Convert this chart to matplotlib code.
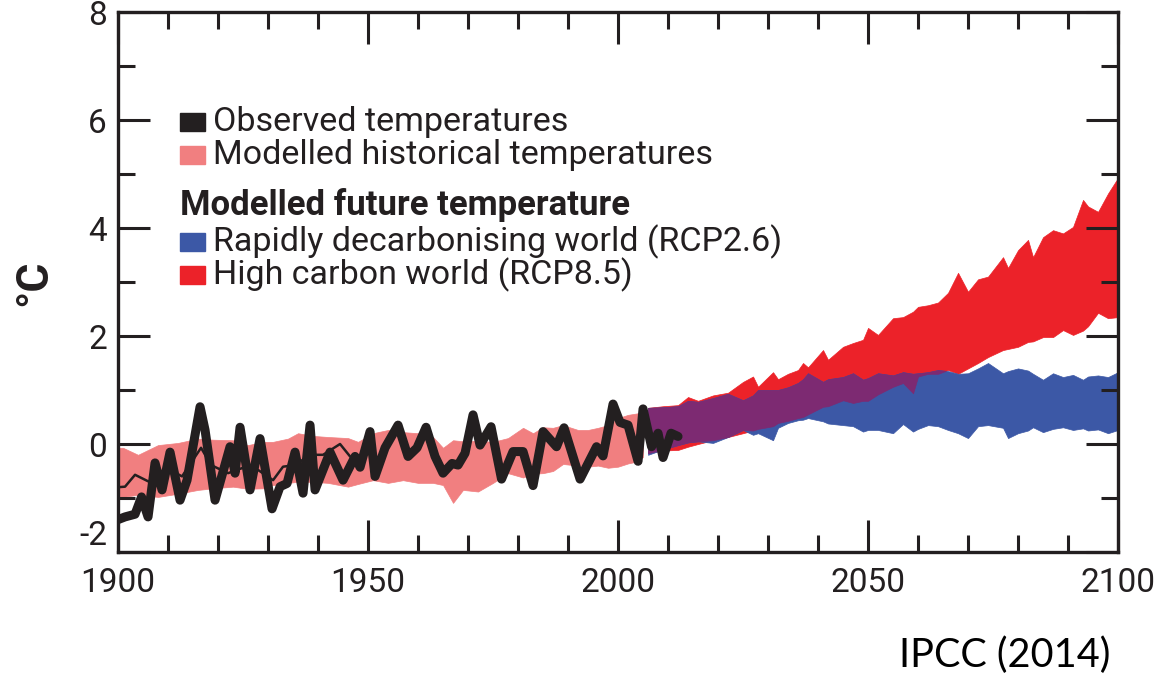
import numpy as np
import matplotlib.pyplot as plt
from matplotlib.patches import Rectangle

# modelled historical range (pink band)
hist_years = [1900, 1901, 1904, 1908, 1912, 1916, 1919, 1923, 1926, 1929, 1931, 1934, 1936,
              1939, 1942, 1946, 1948, 1951, 1954, 1957, 1960, 1963, 1965, 1967, 1969, 1972,
              1975, 1978, 1981, 1983, 1985, 1987, 1989, 1992, 1994, 1996, 1998, 2000, 2002,
              2004, 2005]
hist_hi = [-0.07, -0.07, -0.20, -0.02, 0.02, 0.10, 0.08, 0.07, -0.02, 0.04, 0.04, 0.10, 0.20,
           0.15, 0.13, 0.11, 0.04, 0.20, 0.26, 0.22, 0.20, 0.13, -0.07, 0.07, 0.05, 0.06,
           0.04, 0.11, 0.30, 0.20, 0.31, 0.30, 0.35, 0.26, 0.26, 0.30, 0.35, 0.48, 0.54,
           0.57, 0.63]
hist_lo = [-0.98, -0.98, -0.94, -0.98, -0.92, -0.85, -0.82, -0.79, -0.83, -0.82, -0.76, -0.72, -0.70,
           -0.70, -0.72, -0.79, -0.74, -0.67, -0.72, -0.67, -0.72, -0.72, -0.76, -1.09, -0.85, -0.88,
           -0.72, -0.54, -0.62, -0.55, -0.54, -0.50, -0.37, -0.40, -0.42, -0.40, -0.44, -0.42, -0.36,
           -0.32, -0.24]

# observed temperatures (main thick trace)
obs_years = [1900, 1901.4, 1903.4, 1904.7, 1906, 1907.4, 1908.8, 1910.4, 1912.4, 1913.8, 1916.4,
             1917.4, 1919.4, 1922.4, 1923.4, 1924.4, 1926.4, 1928.4, 1930.8, 1932.4, 1933.8,
             1935.4, 1937, 1938.4, 1939.4, 1942.4, 1945, 1947.4, 1948.4, 1950.4, 1951.4, 1953.4,
             1956, 1958, 1959.8, 1961.6, 1963.4, 1965, 1966.8, 1968, 1969.4, 1971, 1972.4, 1974.6,
             1976.7, 1979, 1981, 1983, 1985, 1987.7, 1989.2, 1992.4, 1995.7, 1997, 1999, 2000.4,
             2002, 2004, 2005, 2006.7, 2008, 2009, 2010.6, 2012]
obs_temp = [-1.40, -1.35, -1.30, -0.98, -1.35, -0.35, -0.85, -0.15, -1.04, -0.67, 0.69,
            0.26, -1.04, -0.05, -0.54, 0.31, -0.85, 0.10, -1.20, -0.79, -0.73,
            -0.15, -0.91, 0.35, -0.85, -0.15, -0.67, -0.23, -0.43, 0.23, -0.60, -0.07,
            0.35, -0.23, -0.07, 0.31, -0.23, -0.54, -0.36, -0.39, -0.17, 0.54, -0.02, 0.32,
            -0.65, -0.14, -0.14, -0.77, 0.23, -0.05, 0.30, -0.65, -0.05, -0.22, 0.74, 0.40,
            0.35, -0.32, 0.65, -0.05, 0.20, -0.25, 0.20, 0.14]

# second observed dataset, visible apart from the main trace before 1950
obs2_years = [1900, 1901.4, 1903.4, 1906, 1908, 1910.4, 1912.8, 1916.6, 1918.6, 1922, 1925.6,
              1928, 1931, 1933, 1935.4, 1938.4, 1941, 1944.4, 1946.4, 1948.4, 1950.4]
obs2_temp = [-0.80, -0.79, -0.57, -0.69, -0.73, -0.48, -0.60, -0.07, -0.39, -0.54, -0.42,
             -0.48, -0.67, -0.42, -0.39, -0.20, -0.20, 0.00, -0.23, -0.30, 0.15]

# future projections
fut_years = [2006, 2009, 2012, 2014, 2016, 2019, 2022, 2025, 2027, 2028, 2031, 2032, 2034, 2036,
             2037, 2038, 2041, 2042, 2045, 2047, 2049, 2050, 2052, 2055, 2057, 2059, 2060, 2062,
             2064, 2066, 2068, 2070, 2072, 2074, 2077, 2078, 2080, 2082, 2083, 2085, 2087, 2089,
             2091, 2093, 2094, 2096, 2098, 2100]
rcp85_hi = [0.67, 0.70, 0.72, 0.87, 0.80, 0.90, 0.95, 1.15, 1.25, 1.06, 1.33, 1.20, 1.30, 1.37,
            1.50, 1.42, 1.74, 1.56, 1.80, 1.87, 1.93, 2.15, 2.02, 2.33, 2.35, 2.45, 2.54, 2.57,
            2.62, 2.80, 3.17, 2.82, 3.05, 3.10, 3.46, 3.26, 3.59, 3.78, 3.46, 3.83, 3.96, 3.90,
            4.02, 4.52, 4.40, 4.30, 4.64, 4.93]
rcp85_lo = [-0.17, -0.12, -0.11, -0.05, 0.00, 0.07, 0.13, 0.20, 0.25, 0.28, 0.33, 0.39, 0.43, 0.48,
            0.50, 0.55, 0.69, 0.70, 0.81, 0.76, 0.80, 0.80, 0.92, 1.06, 1.13, 0.94, 1.25, 1.30,
            1.30, 1.37, 1.30, 1.40, 1.50, 1.61, 1.74, 1.76, 1.80, 1.89, 1.90, 1.98, 1.98, 2.11,
            2.02, 2.10, 2.18, 2.43, 2.33, 2.35]
rcp26_hi = [0.67, 0.68, 0.70, 0.80, 0.78, 0.85, 0.93, 0.81, 0.90, 1.00, 1.00, 1.00, 1.05, 1.13,
            1.20, 1.31, 1.15, 1.20, 1.24, 1.31, 1.19, 1.22, 1.31, 1.27, 1.33, 1.30, 1.31, 1.33,
            1.37, 1.35, 1.30, 1.31, 1.40, 1.50, 1.31, 1.35, 1.40, 1.36, 1.30, 1.19, 1.31, 1.24,
            1.28, 1.19, 1.25, 1.27, 1.24, 1.33]
rcp26_lo = [-0.20, -0.10, -0.02, 0.03, 0.05, 0.02, 0.13, 0.26, 0.17, 0.20, 0.07, 0.30, 0.39, 0.44,
            0.45, 0.48, 0.42, 0.38, 0.35, 0.33, 0.23, 0.26, 0.26, 0.20, 0.37, 0.23, 0.28, 0.35,
            0.33, 0.26, 0.20, 0.11, 0.33, 0.35, 0.30, 0.11, 0.20, 0.25, 0.31, 0.22, 0.28, 0.31,
            0.26, 0.29, 0.25, 0.27, 0.20, 0.26]

legend_items = ['Observed temperatures', 'Modelled historical temperatures']
legend_title = 'Modelled future temperature'
future_items = ['Rapidly decarbonising world (RCP2.6)', 'High carbon world (RCP8.5)']

ink = '#231F20'
pink = '#F17F80'
red = '#EC2229'
blue = '#3C58A6'
purple = '#7D2A72'

plt.rcParams['font.family'] = ['Roboto', 'DejaVu Sans']
plt.rcParams['axes.unicode_minus'] = False

fig = plt.figure(figsize=(11.55, 6.82), dpi=100)
ax = fig.add_axes([0.1022, 0.1906, 0.8658, 0.7918])

ax.fill_between(hist_years, hist_lo, hist_hi, color=pink, lw=0.5)
ax.fill_between(fut_years, rcp85_lo, rcp85_hi, color=red, lw=0.5)
ax.fill_between(fut_years, rcp26_lo, rcp26_hi, color=blue, lw=0.5)
ov_lo = np.maximum(rcp85_lo, rcp26_lo)
ov_hi = np.minimum(rcp85_hi, rcp26_hi)
ax.fill_between(fut_years, ov_lo, ov_hi, where=ov_hi > ov_lo, interpolate=True,
                color=purple, lw=0.5)

ax.plot(obs2_years, obs2_temp, color=ink, lw=1.8, solid_joinstyle='round')
ax.plot(obs_years, obs_temp, color=ink, lw=6.5, solid_joinstyle='round', solid_capstyle='round')

ax.set_xlim(1900, 2100)
ax.set_ylim(-2, 8)
ax.set_xticks([1900, 1950, 2000, 2050, 2100])
ax.set_xticks(range(1900, 2101, 10), minor=True)
ax.set_yticks(range(-2, 9, 2))
ax.set_yticks(range(-1, 8, 2), minor=True)
ax.tick_params(which='both', direction='in', top=True, right=True, width=2.2,
               color=ink, labelcolor=ink, labelsize=24)
ax.tick_params(which='major', length=23)
ax.tick_params(which='minor', length=12)
ax.tick_params(axis='x', pad=11)
ax.tick_params(axis='y', pad=8)
for s in ax.spines.values():
    s.set_linewidth(2.4)
    s.set_color(ink)

# lift the lowest y label clear of "1900", as in the original
fig.canvas.draw()
ax.get_yticklabels()[0].set_va('bottom')

fig.text(0.030, 0.586, '°C', rotation=90, fontsize=32, fontweight='bold', color=ink,
         ha='center', va='center')

# legend drawn by hand
rows = [0.796, 0.735]
for y, lab, c in zip(rows, legend_items, [ink, pink]):
    ax.add_patch(Rectangle((0.062, y - 0.017), 0.025, 0.034, color=c, transform=ax.transAxes))
    ax.text(0.095, y, lab, transform=ax.transAxes, fontsize=24.5, color=ink, va='center')
ax.text(0.062, 0.643, legend_title, transform=ax.transAxes, fontsize=25, fontweight='bold',
        color=ink, va='center')
rows = [0.574, 0.513]
for y, lab, c in zip(rows, future_items, [blue, red]):
    ax.add_patch(Rectangle((0.062, y - 0.017), 0.025, 0.034, color=c, transform=ax.transAxes))
    ax.text(0.095, y, lab, transform=ax.transAxes, fontsize=24.5, color=ink, va='center')

fig.text(0.870, 0.040, 'IPCC (2014)', fontsize=28.5, family='Lato', color='black',
         ha='center', va='center')

fig.savefig('out.png', dpi=100)
